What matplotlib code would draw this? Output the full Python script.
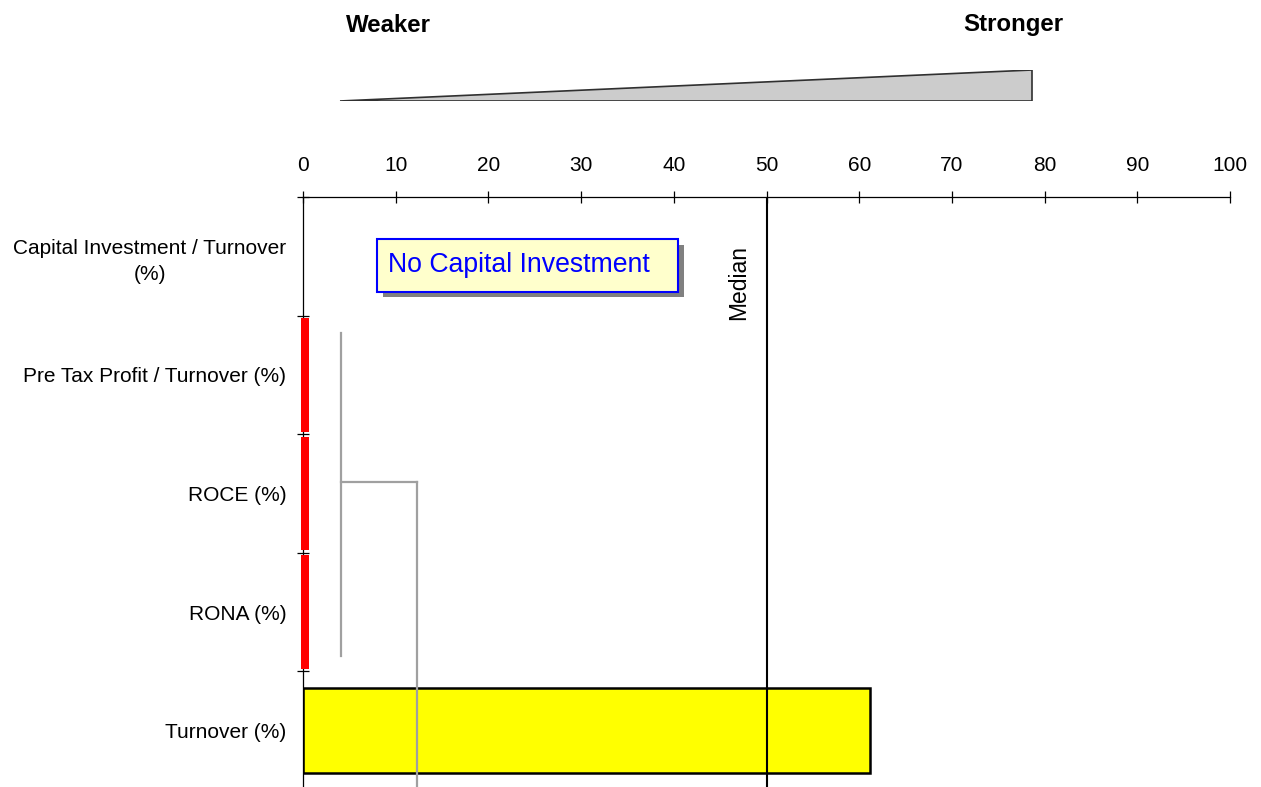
import matplotlib
matplotlib.use("Agg")
import matplotlib.pyplot as plt
from matplotlib.patches import Polygon, Rectangle
import matplotlib.patheffects as pe

# ---------------- data ----------------
categories = ["Capital Investment / Turnover\n(%)", "Pre Tax Profit / Turnover (%)",
              "ROCE (%)", "RONA (%)", "Turnover (%)"]
scores = [0.0, 0.7, 0.7, 0.7, 61.2]
bar_colors = ["none", "#ff0000", "#ff0000", "#ff0000", "#ffff00"]
bar_heights = [0.0, 0.96, 0.96, 0.96, 0.72]
median = 50
quartile_x = [4.1, 12.3]          # grey bracket positions
quartile_span = [1.15, 3.87]      # row span of first grey line
quartile_join = 2.4
x_ticks = list(range(0, 101, 10))
no_data_note = "No Capital Investment"

plt.rcParams["font.family"] = ["Liberation Sans", "DejaVu Sans"]

W, H, DPI = 1261, 787, 100
fig = plt.figure(figsize=(W / DPI, H / DPI), dpi=DPI)


def px_axes(l, t, r, b):
    return fig.add_axes([l / W, 1 - b / H, (r - l) / W, (b - t) / H])


ax = px_axes(303, 197, 1230, 790)
n = len(categories)
ax.set_xlim(0, 100)
ax.set_ylim(n, 0)

pos = [i + 0.5 for i in range(n)]
for y, v, c, h in zip(pos, scores, bar_colors, bar_heights):
    if v <= 0:
        continue
    if c == "#ffff00":
        ax.barh(y, v, height=h, color=c, edgecolor="black", linewidth=1.8, zorder=2)
    else:
        # thin red bars sit on top of the axis line
        ax.barh(y, v + 0.25, left=-0.25, height=h, color=c, edgecolor="none", zorder=3.5,
                clip_on=False)

# median
ax.axvline(median, color="black", lw=1.5, zorder=3)
ax.text(median - 3.0, 0.72, "Median", rotation=90, ha="center", va="center", fontsize=16.5)

# grey bracket
gc = "#a0a0a0"
ax.plot([quartile_x[0], quartile_x[0]], quartile_span, color=gc, lw=1.6, zorder=4)
ax.plot(quartile_x, [quartile_join, quartile_join], color=gc, lw=1.6, zorder=4)
ax.plot([quartile_x[1], quartile_x[1]], [quartile_join, n], color=gc, lw=1.6, zorder=4)

# note box with shadow
bx0, bx1, by0, by1 = 8.0, 40.5, 0.355, 0.80
rect = Rectangle((bx0, by0), bx1 - bx0, by1 - by0, facecolor="#ffffcc", edgecolor="#0000ff",
                 lw=1.5, zorder=5)
rect.set_path_effects([pe.SimplePatchShadow(offset=(4, -4), shadow_rgbFace="#808080", alpha=1),
                       pe.Normal()])
ax.add_patch(rect)
ax.text(bx0 + 1.2, (by0 + by1) / 2, no_data_note, color="#0000ff", fontsize=19.2,
        ha="left", va="center", zorder=6)

# axes styling
for s in ["bottom", "right"]:
    ax.spines[s].set_visible(False)
for s in ["top", "left"]:
    ax.spines[s].set_linewidth(0.9)
ax.xaxis.tick_top()
ax.set_xticks(x_ticks)
ax.tick_params(axis="x", direction="inout", length=8, width=0.9, labelsize=15, pad=12)
ax.set_yticks(pos)
ax.set_yticklabels(categories, fontsize=15, multialignment="center", linespacing=1.45)
ax.tick_params(axis="y", which="major", length=0, pad=12)
ax.set_yticks(list(range(n)), minor=True)
ax.tick_params(axis="y", which="minor", direction="inout", length=9, width=0.9)

# header wedge
hx = px_axes(303, 70, 1230, 101)
hx.set_xlim(0, 100)
hx.set_ylim(0, 1)
hx.axis("off")
hx.add_patch(Polygon([(4.0, 0), (78.6, 0), (78.6, 1)], closed=True, facecolor="#cccccc",
                     edgecolor="#303030", lw=1.2))
fig.text(388 / W, 1 - 25 / H, "Weaker", fontsize=17.3, fontweight="bold", ha="center", va="center")
fig.text(1013 / W, 1 - 25 / H, "Stronger", fontsize=17.3, fontweight="bold", ha="center", va="center")

fig.savefig("out.png", dpi=DPI)
